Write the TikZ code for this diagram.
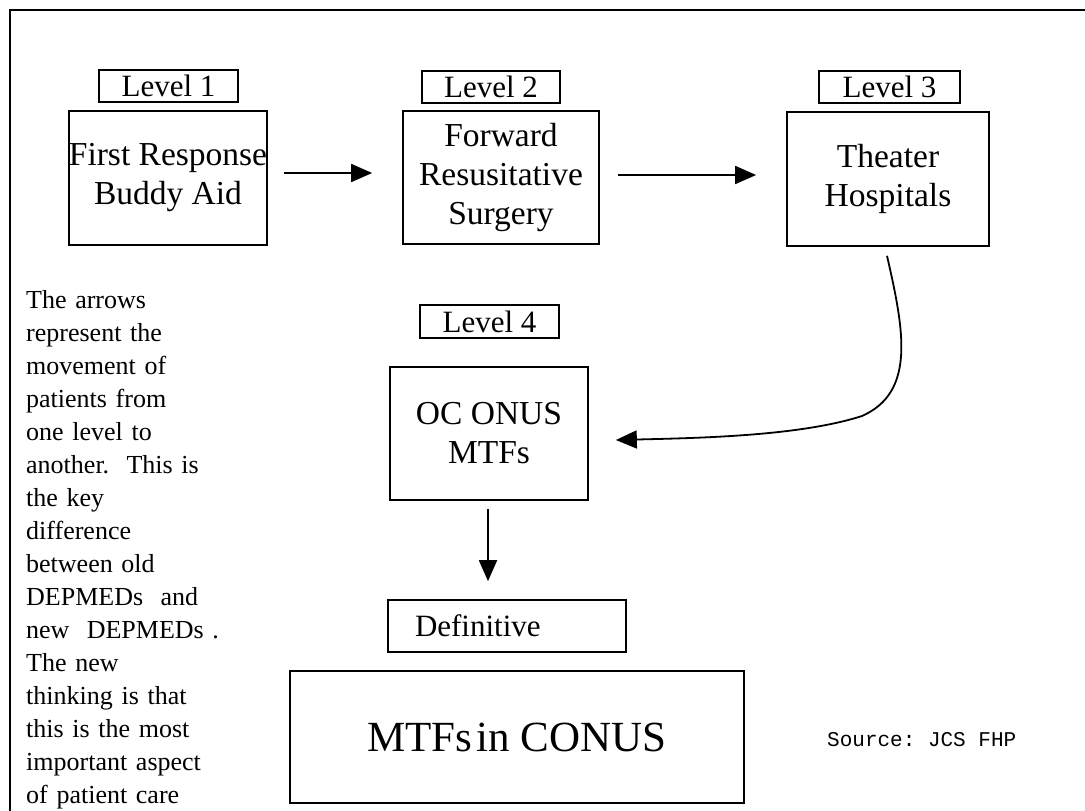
\documentclass[tikz,border=0pt]{standalone}
\usepackage{fontspec}
\setmainfont{Liberation Serif}
\setmonofont{Liberation Mono}
\usetikzlibrary{arrows.meta,calc}
\begin{document}
\begin{tikzpicture}[x=1pt,y=-1pt,
  frameline/.style={line width=2.6pt},
  bigbox/.style={draw,line width=1.7pt,inner sep=0pt,align=center,
     font=\fontsize{33.5}{39}\selectfont},
  lvlbox/.style={draw,line width=1.6pt,inner sep=0pt,
     font=\fontsize{31}{33}\selectfont},
  arr/.style={line width=1.8pt,-{Triangle[length=21pt,width=18pt]}}]
\useasboundingbox (0,0) rectangle (1085,811);
\fill[white] (0,0) rectangle (1085,811);
% frame
\coordinate (ftl) at (10,10);
\coordinate (ftr) at (1085,10);
\coordinate (fbl) at (10,811);
\draw[frameline] (ftr) -- (ftl) -- (fbl);
% level labels
\node[lvlbox,minimum width=139pt,minimum height=32pt] (L1) at (168.5,86) {Level 1};
\node[lvlbox,minimum width=138pt,minimum height=32pt] (L2) at (491,87) {Level 2};
\node[lvlbox,minimum width=141pt,minimum height=32pt] (L3) at (889.5,87) {Level 3};
\node[lvlbox,minimum width=139pt,minimum height=33pt] (L4) at (489.5,321.5) {Level 4};
% main boxes
\node[bigbox,minimum width=198pt,minimum height=134pt] (B1) at (168,178) {First Response\\Buddy Aid};
\node[bigbox,minimum width=196pt,minimum height=133pt] (B2) at (501,177.5) {Forward\\Resusitative\\Surgery};
\node[bigbox,minimum width=202pt,minimum height=134pt] (B3) at (888,179) {Theater\\Hospitals};
\node[bigbox,minimum width=198pt,minimum height=133pt] (B4) at (489,433.5) {OC ONUS\\MTFs};
\node[draw,line width=1.6pt,inner ysep=0pt,inner xsep=27pt,text width=184pt,align=left,
      minimum height=52pt,font=\fontsize{31}{33}\selectfont] (Def) at (507,626) {Definitive};
\node[draw,line width=1.7pt,minimum width=454pt,minimum height=132pt,inner sep=0pt,
      font=\fontsize{43}{46}\selectfont] (MTF) at (517,737) {MTFs\hspace{0.1em}in CONUS};
% source
\node[anchor=west,inner sep=0pt,font=\ttfamily\fontsize{21}{24}\selectfont] (src) at (827,740) {Source: JCS FHP};
% explanatory text
\node[anchor=north west,inner sep=0pt,text width=220pt,align=left,
      font=\fontsize{26}{33}\selectfont] (note) at (26,290)
{The arrows\\represent the\\movement of\\patients from\\one level to\\another.\ \ This is\\the key\\difference\\between old\\DEPMEDs\ \ and\\new\ \ DEPMEDs .\\The new\\thinking is that\\this is the most\\important aspect\\of patient care};
% arrows
\draw[arr] ($(B1.east)+(16,-5)$) -- ($(B2.west)+(-30,-4.5)$);
\draw[arr] ($(B2.east)+(18,-2.5)$) -- ($(B3.west)+(-30,-4)$);
\draw[arr] ($(B3.south)+(-1,9)$) .. controls (904,330) and (916,392) .. (862,416)
   .. controls (800,436) and (700,438) .. ($(B4.east)+(27,6.5)$);
\draw[arr] ($(B4.south)+(-1,8)$) -- ($(B4.south |- Def.north)+(-1,-18)$);
\end{tikzpicture}
\end{document}
